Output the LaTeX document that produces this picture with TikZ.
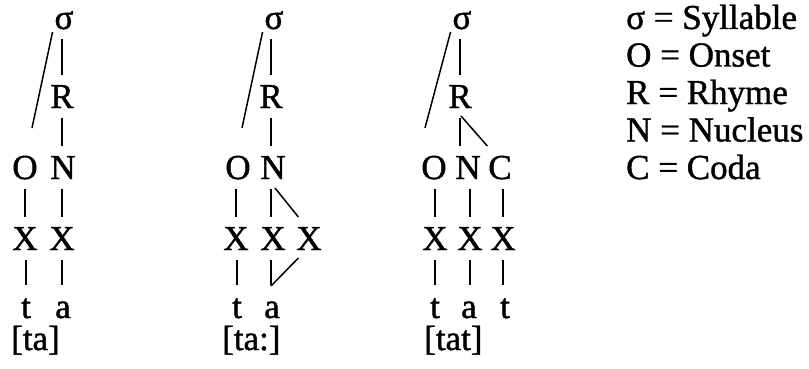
\documentclass[tikz,border=0pt]{standalone}
\usepackage{fontspec}
\setmainfont[FakeBold=1.2]{Liberation Serif}
\begin{document}
\begin{tikzpicture}[x=1pt,y=-1pt,
  lt/.style={anchor=base, inner sep=0pt, outer sep=0pt, text height=23pt, text depth=0pt, font=\fontsize{35}{40}\selectfont},
  lg/.style={anchor=base west, inner sep=0pt, font=\fontsize{35}{40}\selectfont},
  ln/.style={line width=1.5pt},
  gap/.style={ln, shorten <=10pt, shorten >=10pt}]
\useasboundingbox (0,0) rectangle (809,369);
% ---------- tree 1 ----------
\node[lt] (s1) at (64,29) {σ};
\node[lt] (R1) at (62,108) {R};
\node[lt] (O1) at (25,179) {O};
\node[lt] (N1) at (63,179) {N};
\node[lt] (X11) at (25,250) {X};
\node[lt] (X12) at (62,250) {X};
\node[lt] (t1) at (26,318) {t};
\node[lt] (a1) at (63,318) {a};
\node[lg] (l1) at (11,350) {[ta]};
\draw[ln] ([shift={(-2,3)}]s1.base west) -- ([shift={(7,-28)}]O1.north);
\draw[gap] (s1.south -| R1) -- (R1.north);
\draw[gap] (R1.south) -- (R1.south |- N1.north);
\draw[gap] (O1.south -| X11) -- (X11.north);
\draw[gap] (N1.south -| X12) -- (X12.north);
\draw[gap] (X11.south -| t1) -- (t1.north);
\draw[gap] (X12.south) -- (X12.south |- a1.north);
% ---------- tree 2 ----------
\node[lt] (s2) at (274,29) {σ};
\node[lt] (R2) at (271,108) {R};
\node[lt] (O2) at (238,179) {O};
\node[lt] (N2) at (273,179) {N};
\node[lt] (X21) at (236,250) {X};
\node[lt] (X22) at (273,250) {X};
\node[lt] (X23) at (309,250) {X};
\node[lt] (t2) at (237,318) {t};
\node[lt] (a2) at (272,318) {a};
\node[lg] (l2) at (222,350) {[ta:]};
\draw[ln] ([shift={(-2,3)}]s2.base west) -- ([shift={(4,-28)}]O2.north);
\draw[gap] (s2.south -| R2) -- (R2.north);
\draw[gap] (R2.south) -- (R2.south |- N2.north);
\draw[gap] (O2.south -| X21) -- (X21.north);
\draw[gap] (N2.south -| R2) -- (R2 |- X22.north);
\draw[ln] ([shift={(2,9)}]N2.south) -- ([shift={(2,-10)}]X23.north west);
\draw[gap] (X21.south -| t2) -- (t2.north);
\draw[gap] (X22.south -| R2) -- (R2 |- a2.north);
\draw[ln] ([shift={(2,8)}]X23.south west) -- ([shift={(0,-9)}]R2 |- a2.north);
% ---------- tree 3 ----------
\node[lt] (s3) at (462,29) {σ};
\node[lt] (R3) at (460,108) {R};
\node[lt] (O3) at (434,179) {O};
\node[lt] (N3) at (468,179) {N};
\node[lt] (C3) at (500,179) {C};
\node[lt] (X31) at (435,250) {X};
\node[lt] (X32) at (470,250) {X};
\node[lt] (X33) at (503,250) {X};
\node[lt] (t31) at (435,318) {t};
\node[lt] (a3) at (469,318) {a};
\node[lt] (t32) at (505,318) {t};
\node[lg] (l3) at (424,350) {[tat]};
\draw[ln] ([shift={(-2,3)}]s3.base west) -- ([shift={(-9,-28)}]O3.north);
\draw[gap] (s3.south -| R3) -- (R3.north);
\draw[gap] (R3.south) -- (R3.south |- N3.north);
\draw[ln] ([shift={(1,8)}]R3.south) -- ([shift={(-1,-10)}]C3.north west);
\draw[gap] (O3.south -| X31) -- (X31.north);
\draw[gap] (N3.south -| X32) -- (X32.north);
\draw[gap] (C3.south -| X33) -- (X33.north);
\draw[gap] (X31.south) -- (X31.south |- t31.north);
\draw[gap] (X32.south) -- (X32.south |- a3.north);
\draw[gap] (X33.south) -- (X33.south |- t32.north);
% ---------- legend ----------
\node[lg] (k1) at (626,29) {σ = Syllable};
\node[lg] (k2) at (626,66.5) {O = Onset};
\node[lg] (k3) at (626,104) {R = Rhyme};
\node[lg] (k4) at (626,141.5) {N = Nucleus};
\node[lg] (k5) at (626,179) {C = Coda};
\end{tikzpicture}
\end{document}
